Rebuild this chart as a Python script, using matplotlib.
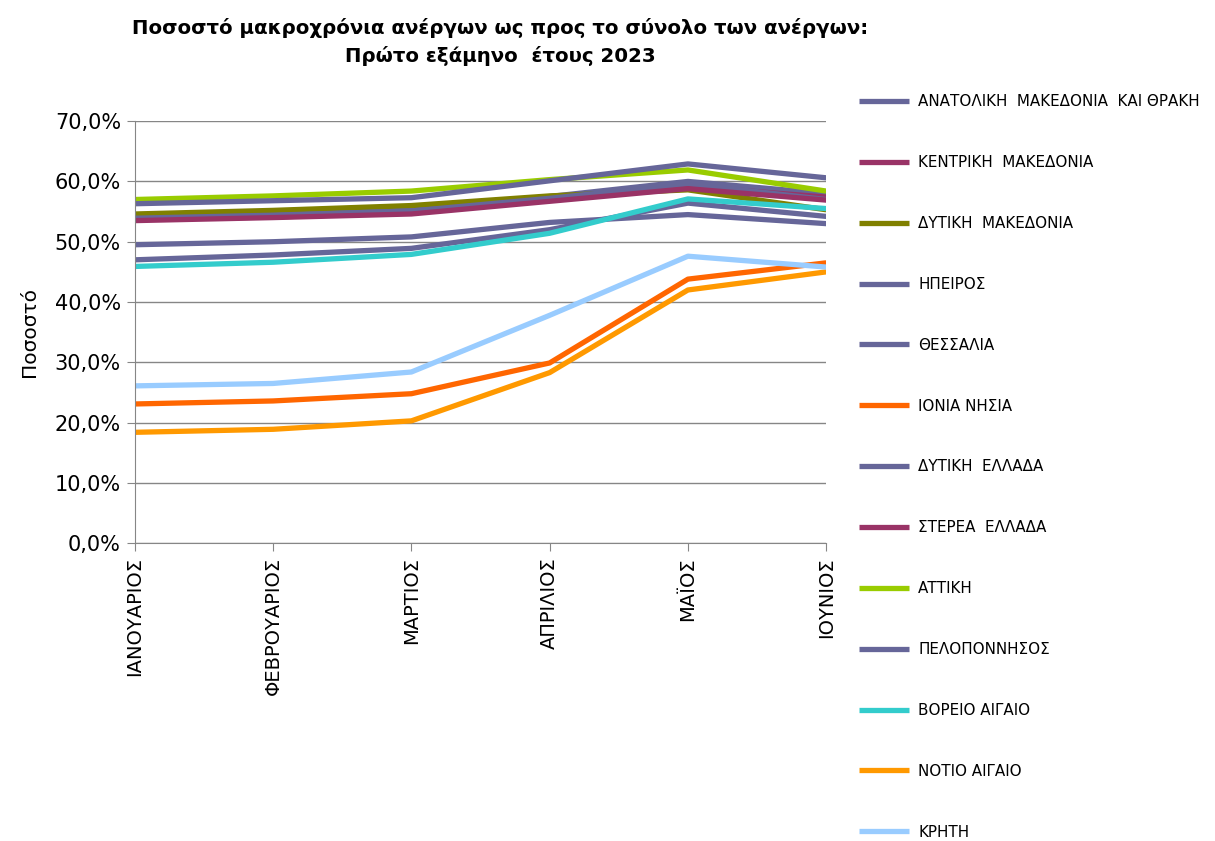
import matplotlib
matplotlib.use("Agg")
import matplotlib.pyplot as plt
from matplotlib.ticker import FuncFormatter

# months (x axis)
mhnes = ['ΙΑΝΟΥΑΡΙΟΣ', 'ΦΕΒΡΟΥΑΡΙΟΣ', 'ΜΑΡΤΙΟΣ', 'ΑΠΡΙΛΙΟΣ', 'ΜΑΪΟΣ', 'ΙΟΥΝΙΟΣ']

# regions in legend order
perifereies = ['ΑΝΑΤΟΛΙΚΗ  ΜΑΚΕΔΟΝΙΑ  ΚΑΙ ΘΡΑΚΗ', 'ΚΕΝΤΡΙΚΗ  ΜΑΚΕΔΟΝΙΑ', 'ΔΥΤΙΚΗ  ΜΑΚΕΔΟΝΙΑ',
               'ΗΠΕΙΡΟΣ', 'ΘΕΣΣΑΛΙΑ', 'ΙΟΝΙΑ ΝΗΣΙΑ', 'ΔΥΤΙΚΗ  ΕΛΛΑΔΑ', 'ΣΤΕΡΕΑ  ΕΛΛΑΔΑ',
               'ΑΤΤΙΚΗ', 'ΠΕΛΟΠΟΝΝΗΣΟΣ', 'ΒΟΡΕΙΟ ΑΙΓΑΙΟ', 'ΝΟΤΙΟ ΑΙΓΑΙΟ', 'ΚΡΗΤΗ']

# percentage of long term unemployed, per month
anat_makedonia = [54.1, 54.7, 55.5, 57.5, 60.0, 58.0]
kentr_makedonia = [53.7, 54.1, 54.8, 57.0, 59.2, 57.4]
dyt_makedonia = [54.6, 55.2, 56.0, 57.6, 58.6, 55.3]
ipeiros = [49.5, 50.0, 50.8, 53.2, 54.5, 53.0]
thessalia = [47.0, 47.8, 48.9, 52.0, 56.4, 54.2]
ionia = [23.1, 23.6, 24.8, 29.9, 43.8, 46.5]
dyt_ellada = [53.9, 54.4, 55.1, 57.2, 59.6, 57.0]
sterea = [53.5, 54.0, 54.6, 56.7, 58.8, 56.9]
attiki = [57.0, 57.6, 58.4, 60.3, 61.9, 58.4]
peloponnisos = [56.3, 56.8, 57.3, 60.1, 62.9, 60.6]
voreio = [45.9, 46.6, 47.9, 51.4, 57.1, 55.5]
notio = [18.4, 18.9, 20.3, 28.3, 42.0, 45.0]
kriti = [26.1, 26.5, 28.4, 37.8, 47.6, 45.8]

times = [anat_makedonia, kentr_makedonia, dyt_makedonia, ipeiros, thessalia, ionia,
         dyt_ellada, sterea, attiki, peloponnisos, voreio, notio, kriti]

xrwmata = ['#666699', '#993366', '#808000', '#666699', '#666699', '#FF6600',
           '#666699', '#993366', '#99CC00', '#666699', '#33CCCC', '#FF9900', '#99CCFF']

fig = plt.figure(figsize=(12.15, 8.41), dpi=100)
ax = fig.add_axes([0.111, 0.354, 0.569, 0.502])

x = list(range(len(mhnes)))
for nom, y, c in zip(perifereies, times, xrwmata):
    ax.plot(x, y, color=c, lw=3.8, label=nom, solid_capstyle='butt')

ax.set_xlim(0, 5)
ax.set_ylim(0, 70)
ax.set_yticks(range(0, 71, 10))
ax.yaxis.set_major_formatter(FuncFormatter(lambda v, p: ('%.1f%%' % v).replace('.', ',')))
ax.set_xticks(x)
ax.set_xticklabels(mhnes, rotation=90, fontsize=14)
ax.tick_params(axis='y', labelsize=15, length=6, color='#868686', pad=4)
ax.tick_params(axis='x', length=6, color='#868686', pad=4)
ax.grid(axis='y', color='#868686', lw=1)
ax.set_axisbelow(True)
for s in ['top', 'right']:
    ax.spines[s].set_visible(False)
for s in ['left', 'bottom']:
    ax.spines[s].set_color('#868686')
ax.set_ylabel('Ποσοστό', fontsize=14.5, labelpad=11)

fig.text(0.412, 0.95, 'Ποσοστό μακροχρόνια ανέργων ως προς το σύνολο των ανέργων:\nΠρώτο εξάμηνο  έτους 2023',
         ha='center', va='center', fontsize=14.2, fontweight='bold', linespacing=1.45)

fig.legend(loc='upper left', bbox_to_anchor=(0.707, 0.888), frameon=False, fontsize=10.9,
           borderpad=0, borderaxespad=0, handlelength=3.3, handletextpad=0.6, labelspacing=3.03)

fig.savefig('out.png', dpi=100)
